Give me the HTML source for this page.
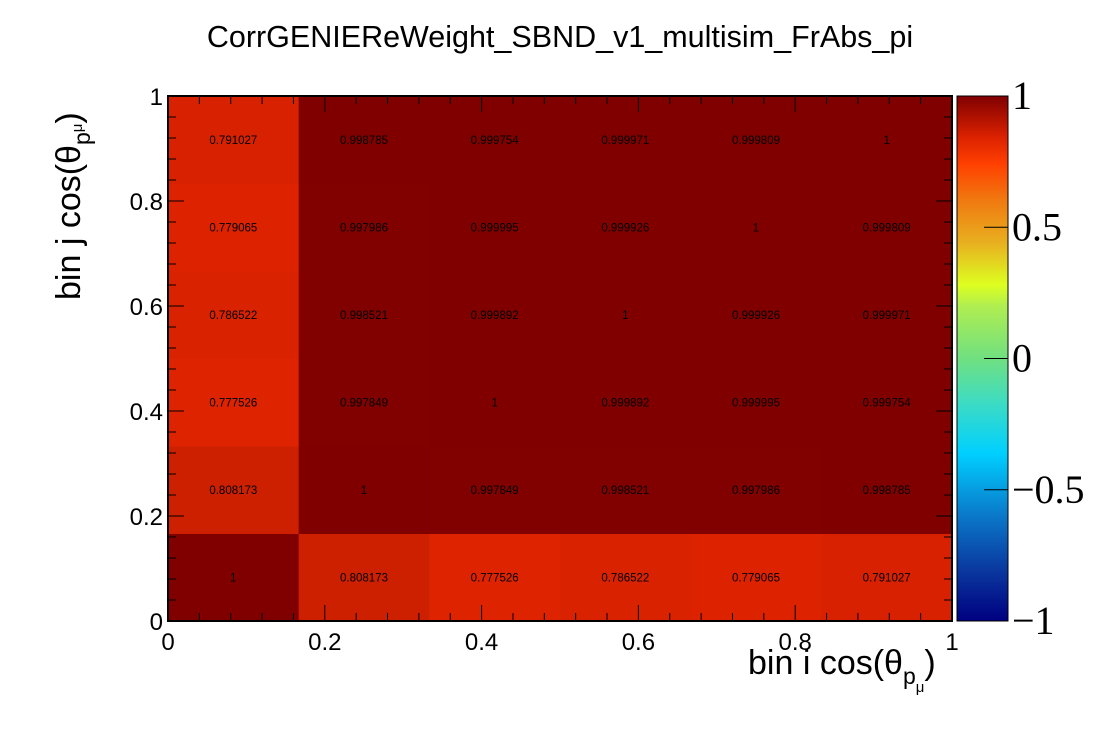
<!DOCTYPE html>
<html><head><meta charset="utf-8"><style>
body{margin:0;background:#fff}
</style></head><body>
<svg id="chart" width="1120" height="740" xmlns="http://www.w3.org/2000/svg" style="font-family:'Liberation Sans',sans-serif">
<defs>
<linearGradient id="pal" x1="0" y1="1" x2="0" y2="0">
<stop offset="0" stop-color="#000080"/>
<stop offset="0.1" stop-color="#0a3aa0"/>
<stop offset="0.2" stop-color="#0a78c8"/>
<stop offset="0.32" stop-color="#00d0ff"/>
<stop offset="0.42" stop-color="#40dcc0"/>
<stop offset="0.5" stop-color="#70e080"/>
<stop offset="0.6" stop-color="#b0ee50"/>
<stop offset="0.64" stop-color="#ddff20"/>
<stop offset="0.72" stop-color="#e8b020"/>
<stop offset="0.8" stop-color="#f07a10"/>
<stop offset="0.87" stop-color="#ff4000"/>
<stop offset="0.92" stop-color="#dd2200"/>
<stop offset="1" stop-color="#800000"/>
</linearGradient>
</defs>
<text x="560" y="47" font-size="30.5" text-anchor="middle">CorrGENIEReWeight_SBND_v1_multisim_FrAbs_pi</text>
<g id="cells"></g>
<g id="axes"></g>
<rect x="957" y="96" width="51" height="525" fill="url(#pal)"/>
<g id="zaxis"></g>
<text x="0" y="0" font-size="34" transform="translate(80,300) rotate(-90)">bin j cos(θ<tspan font-size="23" dy="10">p</tspan><tspan font-size="15" dy="-8">μ</tspan><tspan dy="-2">)</tspan></text>
<text x="748" y="674" font-size="34">bin i cos(θ<tspan font-size="23" dy="10">p</tspan><tspan font-size="15" dy="8">μ</tspan><tspan dy="-18">)</tspan></text>
</svg>
<script>
const xEdges=[0,1/6,2/6,3/6,4/6,5/6,1];
const rowsBottomToTop=[
[1,0.808173,0.777526,0.786522,0.779065,0.791027],
[0.808173,1,0.997849,0.998521,0.997986,0.998785],
[0.777526,0.997849,1,0.999892,0.999995,0.999754],
[0.786522,0.998521,0.999892,1,0.999926,0.999971],
[0.779065,0.997986,0.999995,0.999926,1,0.999809],
[0.791027,0.998785,0.999754,0.999971,0.999809,1]];
const xTicks=["0","0.2","0.4","0.6","0.8","1"];
const zTicks=["1","0.5","0","\u22120.5","\u22121"];
const zVals=[1,0.5,0,-0.5,-1];
const NS="http://www.w3.org/2000/svg";
const X0=168,X1=952,Y0=621,Y1=96;
const sx=v=>X0+v*(X1-X0), sy=v=>Y0-v*(Y0-Y1);
const stops=[[-1,[0,0,128]],[-0.5,[10,120,200]],[-0.36,[0,208,255]],[0,[112,224,128]],[0.28,[221,255,32]],[0.44,[232,176,32]],[0.6,[240,122,16]],[0.74,[240,50,0]],[0.78,[221,34,0]],[0.81,[204,32,0]],[1,[128,0,0]]];
function col(v){for(let i=1;i<stops.length;i++){if(v<=stops[i][0]){const a=stops[i-1],b=stops[i],t=(v-a[0])/(b[0]-a[0]);return 'rgb('+a[1].map((c,k)=>Math.round(c+(b[1][k]-c)*t)).join(',')+')';}}return 'rgb(128,0,0)';}
function mk(tag,attrs,parent){const e=document.createElementNS(NS,tag);for(const k in attrs)e.setAttribute(k,attrs[k]);parent.appendChild(e);return e;}
const cells=document.getElementById('cells');
rowsBottomToTop.forEach((row,j)=>row.forEach((v,i)=>{
 const x=sx(xEdges[i]),x2=sx(xEdges[i+1]),y=sy(xEdges[j+1]),y2=sy(xEdges[j]);
 const r=mk('rect',{x:x,y:y,width:x2-x+0.5,height:y2-y+0.5,fill:col(v)},cells);
 
 
 const t=mk('text',{x:(x+x2)/2,y:(y+y2)/2+4,'font-size':11.5,'text-anchor':'middle',fill:'#000'},cells);
 t.textContent=String(v);
 
 
}));
const ax=document.getElementById('axes');
mk('rect',{x:X0,y:Y1,width:X1-X0,height:Y0-Y1,fill:'none',stroke:'#000','stroke-width':2},ax);
for(let k=0;k<=25;k++){const v=k*0.04,maj=k%5==0,L=maj?16:8;
 const x=sx(v),y=sy(v);
 mk('line',{x1:x,y1:Y0,x2:x,y2:Y0-L,stroke:'#000'},ax);
 mk('line',{x1:x,y1:Y1,x2:x,y2:Y1+L,stroke:'#000'},ax);
 mk('line',{x1:X0,y1:y,x2:X0+L,y2:y,stroke:'#000'},ax);
 mk('line',{x1:X1,y1:y,x2:X1-L,y2:y,stroke:'#000'},ax);}
xTicks.forEach((s,k)=>{const v=k*0.2;
 const a=mk('text',{x:sx(v),y:650,'font-size':24,'text-anchor':'middle'},ax);a.textContent=s;
 
 const b=mk('text',{x:163,y:sy(v)+9,'font-size':24,'text-anchor':'end'},ax);b.textContent=s;
 });
const za=document.getElementById('zaxis');
mk('rect',{x:957,y:96,width:51,height:525,fill:'none',stroke:'#000','stroke-width':1},za);
zTicks.forEach((s,k)=>{const y=621-(zVals[k]+1)/2*525;
 mk('line',{x1:984,y1:y,x2:1008,y2:y,stroke:'#000'},za);
 const t=mk('text',{x:1012,y:y+13,'font-size':40,style:'font-family:"Liberation Serif",serif'},za);t.textContent=s;
 });
</script>
</body></html>
